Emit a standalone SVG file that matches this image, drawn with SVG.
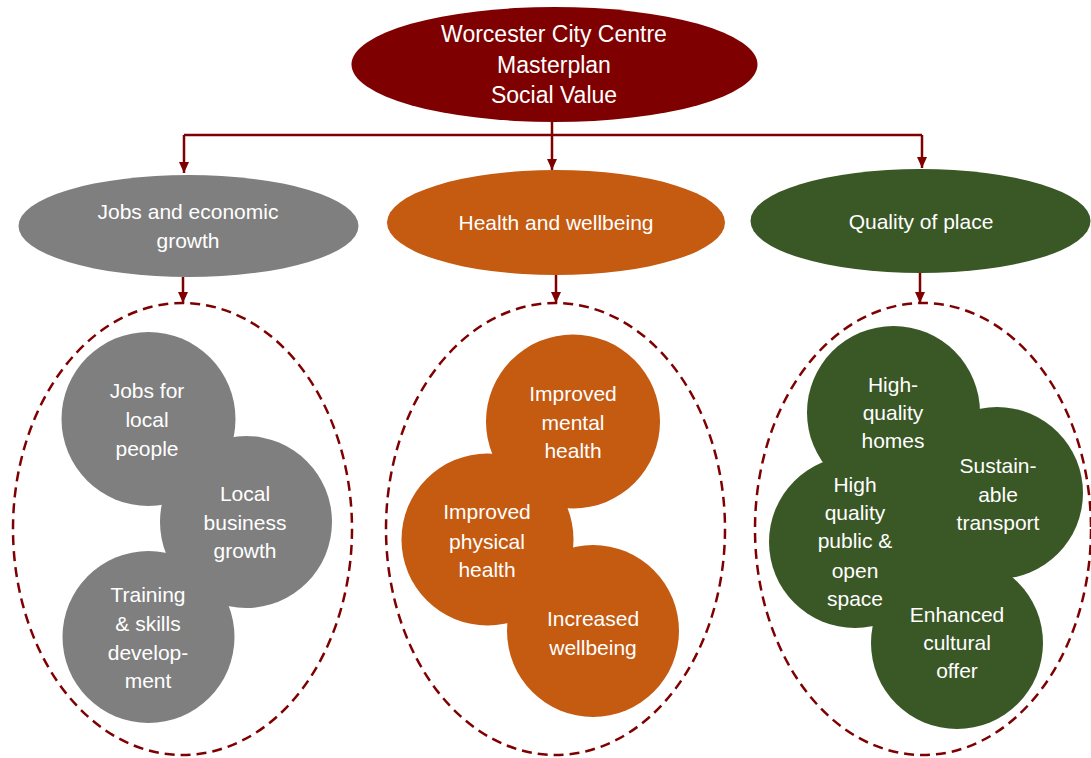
<svg xmlns="http://www.w3.org/2000/svg" width="1091" height="758" viewBox="0 0 1091 758">
  <style>
    text { font-family: "Liberation Sans", Arial, sans-serif; fill: #ffffff; text-anchor: middle; }
    .title { font-size: 23px; }
    .lbl { font-size: 21px; }
    .conn { stroke: #7f0000; stroke-width: 2.5; fill: none; }
    .group { stroke: #7f0000; stroke-width: 2.5; fill: none; stroke-dasharray: 10 6; }
    .root { fill: #7f0000; }
    .jobs { fill: #7f7f7f; }
    .health { fill: #c55a11; }
    .place { fill: #3a5726; }
  </style>
  <defs>
    <marker id="arrow" markerUnits="userSpaceOnUse" markerWidth="12" markerHeight="12" viewBox="0 0 12 12" refX="11" refY="6" orient="auto">
      <path d="M0,1 L11,6 L0,11 Z" fill="#7f0000"/>
    </marker>
  </defs>

  <!-- connectors -->
  <g id="connectors">
    <path class="conn" d="M552,122 V170" marker-end="url(#arrow)"/>
    <path class="conn" d="M184,135 H922"/>
    <path class="conn" d="M184,135 V173" marker-end="url(#arrow)"/>
    <path class="conn" d="M922,135 V168" marker-end="url(#arrow)"/>
    <path class="conn" d="M183,277 V303" marker-end="url(#arrow)"/>
    <path class="conn" d="M556,275 V303" marker-end="url(#arrow)"/>
    <path class="conn" d="M920,272 V303" marker-end="url(#arrow)"/>
  </g>

  <!-- top node -->
  <g id="root">
    <ellipse class="root" cx="554.5" cy="64.5" rx="203" ry="57.5"/>
    <text class="title" x="554" y="42">Worcester City Centre</text>
    <text class="title" x="554" y="73">Masterplan</text>
    <text class="title" x="554" y="103">Social Value</text>
  </g>

  <!-- themes -->
  <g id="theme-jobs">
    <ellipse class="jobs" cx="188.5" cy="226" rx="170" ry="51"/>
    <text class="lbl" x="188" y="219">Jobs and economic</text>
    <text class="lbl" x="188" y="248">growth</text>
  </g>
  <g id="theme-health">
    <ellipse class="health" cx="556" cy="222.5" rx="169" ry="52.5"/>
    <text class="lbl" x="556" y="230">Health and wellbeing</text>
  </g>
  <g id="theme-place">
    <ellipse class="place" cx="920.5" cy="221" rx="170" ry="52"/>
    <text class="lbl" x="921" y="229">Quality of place</text>
  </g>

  <!-- outcome groups -->
  <g id="group-jobs">
    <ellipse class="group" cx="182.5" cy="529" rx="169.5" ry="226"/>
    <circle class="jobs" cx="148.5" cy="419" r="87"/>
    <circle class="jobs" cx="246" cy="522" r="86"/>
    <circle class="jobs" cx="148.5" cy="637" r="86"/>
  </g>
  <g id="jobs-local">
    <text class="lbl" x="147" y="398">Jobs for</text>
    <text class="lbl" x="147" y="427">local</text>
    <text class="lbl" x="147" y="456">people</text>
  </g>
  <g id="jobs-business">
    <text class="lbl" x="245" y="501">Local</text>
    <text class="lbl" x="245" y="530">business</text>
    <text class="lbl" x="245" y="558">growth</text>
  </g>
  <g id="jobs-training">
    <text class="lbl" x="148" y="602">Training</text>
    <text class="lbl" x="148" y="631">&amp; skills</text>
    <text class="lbl" x="148" y="660">develop-</text>
    <text class="lbl" x="148" y="688">ment</text>
  </g>

  <g id="group-health">
    <ellipse class="group" cx="555.5" cy="529" rx="169.5" ry="226"/>
    <circle class="health" cx="573" cy="421.5" r="87"/>
    <circle class="health" cx="487.5" cy="539.5" r="86"/>
    <circle class="health" cx="593" cy="631" r="86"/>
  </g>
  <g id="health-mental">
    <text class="lbl" x="573" y="401">Improved</text>
    <text class="lbl" x="573" y="430">mental</text>
    <text class="lbl" x="573" y="458">health</text>
  </g>
  <g id="health-physical">
    <text class="lbl" x="487" y="519">Improved</text>
    <text class="lbl" x="487" y="549">physical</text>
    <text class="lbl" x="487" y="577">health</text>
  </g>
  <g id="health-wellbeing">
    <text class="lbl" x="593" y="626">Increased</text>
    <text class="lbl" x="593" y="655">wellbeing</text>
  </g>

  <g id="group-place">
    <ellipse class="group" cx="923" cy="529" rx="168" ry="226"/>
    <circle class="place" cx="893.5" cy="412.5" r="86.5"/>
    <circle class="place" cx="997" cy="493" r="86"/>
    <circle class="place" cx="855" cy="542" r="86"/>
    <circle class="place" cx="957" cy="643" r="86"/>
    <!-- fills the pocket where the four circles meet -->
    <circle class="place" cx="930" cy="535" r="55"/>
  </g>
  <g id="place-homes">
    <text class="lbl" x="893" y="392">High-</text>
    <text class="lbl" x="893" y="420">quality</text>
    <text class="lbl" x="893" y="448">homes</text>
  </g>
  <g id="place-transport">
    <text class="lbl" x="998" y="473">Sustain-</text>
    <text class="lbl" x="998" y="502">able</text>
    <text class="lbl" x="998" y="530">transport</text>
  </g>
  <g id="place-open-space">
    <text class="lbl" x="855" y="492">High</text>
    <text class="lbl" x="855" y="520">quality</text>
    <text class="lbl" x="855" y="548">public &amp;</text>
    <text class="lbl" x="855" y="578">open</text>
    <text class="lbl" x="855" y="606">space</text>
  </g>
  <g id="place-culture">
    <text class="lbl" x="957" y="622">Enhanced</text>
    <text class="lbl" x="957" y="650">cultural</text>
    <text class="lbl" x="957" y="678">offer</text>
  </g>
</svg>
